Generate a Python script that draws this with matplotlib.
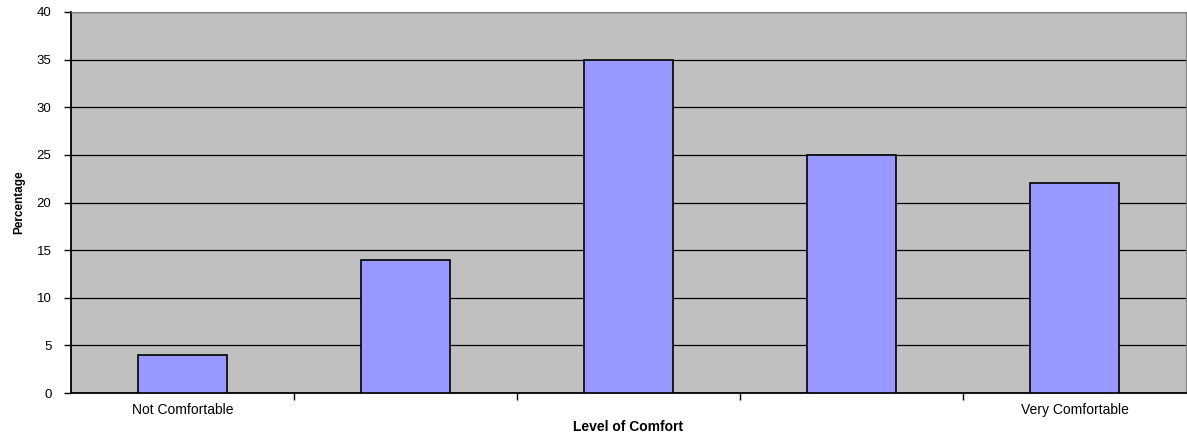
import matplotlib.pyplot as plt
import numpy as np

plt.rcParams['font.family'] = ['Liberation Sans', 'DejaVu Sans']

levels = ['Not Comfortable', '', '', '', 'Very Comfortable']
percent = [4, 14, 35, 25, 22]

fig = plt.figure(figsize=(11.87, 4.34), dpi=100)
ax = fig.add_axes([71 / 1187, 41 / 434, 1115 / 1187, 381 / 434])
ax.set_facecolor('#c0c0c0')

x = np.arange(len(percent))
ax.bar(x, percent, width=0.4, color='#9999ff', edgecolor='black', linewidth=1.2, zorder=3)

ax.set_xlim(-0.5, len(percent) - 0.5)
ax.set_ylim(0, 40)
ax.set_yticks(np.arange(0, 41, 5))
ax.yaxis.grid(True, color='black', linewidth=0.9, zorder=1)

# category labels sit between the boundary ticks
ax.set_xticks(x)
ax.set_xticklabels(levels, fontsize=10)
ax.tick_params(axis='x', which='major', length=0, pad=7)
ax.set_xticks(x[:-1] + 0.5, minor=True)
ax.tick_params(axis='x', which='minor', length=5, width=1, direction='out')
ax.tick_params(axis='y', length=5, width=1, labelsize=9.5, pad=9)

for side in ['top', 'right']:
    ax.spines[side].set_color('#808080')
for side in ['left', 'bottom']:
    ax.spines[side].set_color('black')
    ax.spines[side].set_linewidth(1.3)

ax.set_ylabel('Percentage', fontsize=8.5, fontweight='bold', labelpad=8)
ax.set_xlabel('Level of Comfort', fontsize=10, fontweight='bold')
ax.xaxis.set_label_coords(0.5, -0.07)

plt.savefig('out.png', dpi=100)
